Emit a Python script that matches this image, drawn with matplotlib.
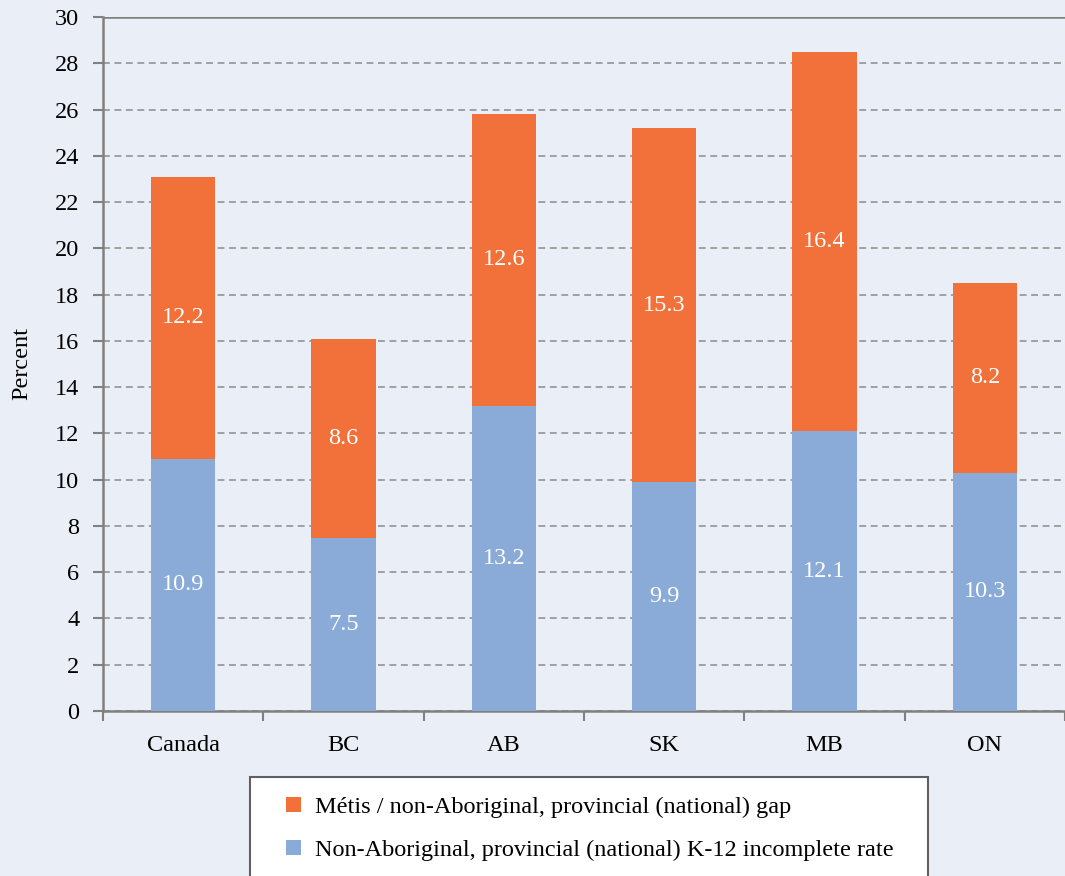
import matplotlib
matplotlib.use("Agg")
import matplotlib.pyplot as plt
from matplotlib.patches import Patch, Rectangle

# K-12 incomplete rates, percent
regions = ["Canada", "BC", "AB", "SK", "MB", "ON"]
non_aboriginal = [10.9, 7.5, 13.2, 9.9, 12.1, 10.3]
metis_gap = [12.2, 8.6, 12.6, 15.3, 16.4, 8.2]

BG = "#EAEEF6"
ORANGE = "#F2703A"
BLUE = "#8AABD8"
AXIS = "#808080"
FS = 17.5

plt.rcParams["font.family"] = ["Liberation Serif", "DejaVu Serif"]

W, H = 1065, 876
fig = plt.figure(figsize=(W / 100, H / 100), dpi=100, facecolor=BG)
ax = fig.add_axes([103 / W, 165 / H, 962 / W, 694 / H])
ax.set_facecolor(BG)

x = range(len(regions))
w = 0.40
ax.bar(x, non_aboriginal, w, color=BLUE, zorder=3)
ax.bar(x, metis_gap, w, bottom=non_aboriginal, color=ORANGE, zorder=3)

for i in x:
    ax.text(i, non_aboriginal[i] / 2, f"{non_aboriginal[i]:.1f}", ha="center",
            va="center", color="white", fontsize=FS, zorder=4)
    ax.text(i, non_aboriginal[i] + metis_gap[i] / 2, f"{metis_gap[i]:.1f}",
            ha="center", va="center", color="white", fontsize=FS, zorder=4)

ax.set_ylim(0, 30)
ax.set_yticks(range(0, 31, 2))
ax.set_xlim(-0.5, 5.5 - 4 / 161)
ax.set_xticks(list(x))
ax.set_xticklabels(regions)
ax.set_xticks([i + 0.5 for i in range(-1, 6)], minor=True)
ax.tick_params(axis="x", which="major", length=0, pad=17, labelsize=FS)
ax.tick_params(axis="x", which="minor", length=7, width=1.5, color=AXIS,
               direction="out")
ax.tick_params(axis="y", length=7, width=1.5, color=AXIS, labelsize=FS, pad=10)

ax.yaxis.grid(True, linestyle=(0, (4.5, 3)), color="#8C8C8C", linewidth=1.1,
              zorder=1)
ax.axhline(30, color=AXIS, linewidth=1.8, zorder=2)

for side in ["right", "top"]:
    ax.spines[side].set_visible(False)
for side in ["left", "bottom"]:
    ax.spines[side].set_color(AXIS)
    ax.spines[side].set_linewidth(1.8)

ax.set_ylabel("Percent", fontsize=FS, labelpad=16)

# legend box below the plot
fig.patches.append(Rectangle((250 / W, -0.01), 678 / W, (H - 777) / H + 0.01,
                             transform=fig.transFigure, facecolor="white",
                             edgecolor="#606060", linewidth=1.5, zorder=1))
handles = [Patch(facecolor=ORANGE, edgecolor="none"),
           Patch(facecolor=BLUE, edgecolor="none")]
labels = ["Métis / non-Aboriginal, provincial (national) gap",
          "Non-Aboriginal, provincial (national) K-12 incomplete rate"]
leg = fig.legend(handles, labels, loc="upper left",
                 bbox_to_anchor=(286 / W, 1 - 797 / H), frameon=False,
                 fontsize=FS, handlelength=0.6, handleheight=0.6,
                 handletextpad=0.6, labelspacing=0.88, borderpad=0,
                 borderaxespad=0)
leg.set_zorder(2)

fig.savefig("out.png", dpi=100, facecolor=BG)
